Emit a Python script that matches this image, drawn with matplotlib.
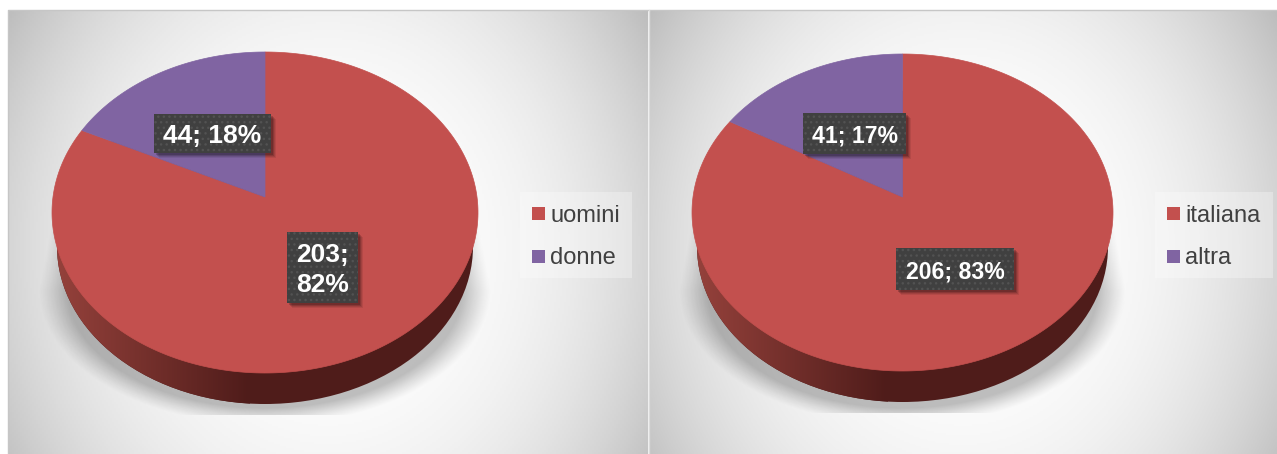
import numpy as np
import matplotlib
matplotlib.use('Agg')
import matplotlib.pyplot as plt
from matplotlib.patches import Ellipse, Polygon, Rectangle
from matplotlib.colors import LinearSegmentedColormap

plt.rcParams['font.family'] = ['Liberation Sans', 'DejaVu Sans']

# data
labels_left = ['uomini', 'donne']
values_left = [203, 44]
labels_right = ['italiana', 'altra']
values_right = [206, 41]

RED = '#c3504e'
PURPLE = '#8064a2'
COLORS = [RED, PURPLE]
W, H = 1277, 454

rim_cmap = LinearSegmentedColormap.from_list('rim', ['#96423c', '#4f1c1a'])
bg_cmap = LinearSegmentedColormap.from_list('bg', ['#ffffff', '#bdbdbd'])


def draw_background(ax, x0, x1, y0, y1):
    xx, yy = np.meshgrid(np.linspace(-1, 1, 320), np.linspace(-1, 0.85, 222))
    t = (0.7 * xx ** 2 + 0.3 * yy ** 2) ** 1.3
    ax.imshow(t, extent=(x0, x1, y1, y0), cmap=bg_cmap, vmin=0, vmax=1, aspect='auto', zorder=1)
    ax.plot([x0, x0, x1], [y1, y0, y0], color='#c6c6c6', lw=1, zorder=1.5)


def draw_shadow(ax, cx, rx, y_top, y_mid, y_cut):
    # soft shadow under the pie, flares out then is cut flat at the bottom
    xs = np.arange(cx - rx - 40, cx + rx + 40)
    ys = np.arange(y_top, y_cut)
    xx, yy = np.meshgrid(xs, ys)
    flare = rx + 14 * np.clip((yy - y_top) / (y_mid - y_top), 0, 1)
    d = np.sqrt(((xx - cx) / flare) ** 2 + (np.clip(yy - y_mid, 0, None) / 135) ** 2)
    a = np.clip((1 - d) / 0.13, 0, 1) ** 1.2 * 0.25
    rgba = np.zeros(a.shape + (4,))
    rgba[..., 3] = a
    ax.imshow(rgba, extent=(xs[0], xs[-1], y_cut, y_top), aspect='auto', zorder=2)


def draw_pie(ax, values, cx, apex_y, top_y, bot_y, rx, depth):
    cy = (top_y + bot_y) / 2
    ry = (bot_y - top_y) / 2

    # rim: darker ellipse below the top face, lit from the left
    grad = np.linspace(0, 1, 200)[None, :]
    rim = Ellipse((cx, cy + 34), 2 * (rx - 5), 2 * (ry + depth - 34), fc='none', ec='none', zorder=3)
    ax.add_patch(rim)
    im = ax.imshow(grad, extent=(cx - rx, cx - 15, bot_y + depth + 2, cy), cmap=rim_cmap,
                   aspect='auto', zorder=3)
    im.set_clip_path(rim)
    dark = Ellipse((cx, cy + 34), 2 * (rx - 5), 2 * (ry + depth - 34), fc='#4f1c1a', ec='none', zorder=2.9)
    ax.add_patch(dark)

    # top face, perspective puts the centre of the pie above the middle of the ellipse
    up = apex_y - top_y
    down = bot_y - apex_y
    k = (down - up) / (down + up)
    b = up * (1 + k)
    a = rx * np.sqrt(1 - k ** 2)

    total = sum(values)
    start = 0.0
    for value, color in zip(values, COLORS):
        stop = start + value / total * 2 * np.pi
        th = np.linspace(start, stop, 300)
        u, v = np.sin(th), np.cos(th)
        w = 1 + k * v
        px = cx + a * u / w
        py = apex_y - b * v / w
        pts = np.column_stack([np.r_[cx, px], np.r_[apex_y, py]])
        ax.add_patch(Polygon(pts, closed=True, fc=color, ec=color, lw=0.5, zorder=4))
        start = stop


def draw_label(ax, text, x0, x1, y0, y1, size):
    for off, alpha in [(5, 0.08), (4, 0.1), (3, 0.14), (2, 0.18)]:
        ax.add_patch(Rectangle((x0 + off, y0 + off), x1 - x0, y1 - y0, fc='black', ec='none',
                               alpha=alpha, zorder=5))
    ax.add_patch(Rectangle((x0, y0), x1 - x0, y1 - y0, fc='#404040', ec='#525252', lw=0,
                           hatch='...', zorder=6))
    ax.text((x0 + x1) / 2, (y0 + y1) / 2 + 2.5, text, color='white', fontsize=size, fontweight='bold',
            ha='center', va='center', linespacing=1.32, zorder=7)


def draw_legend(ax, labels, x0, x1):
    ax.add_patch(Rectangle((x0, 192), x1 - x0, 86, fc='white', ec='none', alpha=0.3, zorder=3))
    for label, color, y in zip(labels, COLORS, [213.5, 256.5]):
        ax.add_patch(Rectangle((x0 + 12, y - 6.5), 13, 13, fc=color, ec='none', zorder=4))
        ax.text(x0 + 30, y + 2, label, color='#404040', fontsize=17, ha='left', va='center', zorder=4)


def pct_label(values, i, sep='; '):
    return f'{values[i]}{sep}{round(values[i] / sum(values) * 100)}%'


fig = plt.figure(figsize=(W / 100, H / 100), dpi=100, facecolor='white')
ax = fig.add_axes([0, 0, 1, 1])

# left chart
draw_background(ax, 8, 648, 10, H)
draw_shadow(ax, 265, 213, 213, 290, 415)
draw_pie(ax, values_left, 265, 197, 52, 373, 213, 31)
draw_label(ax, pct_label(values_left, 1), 154, 271, 114, 153, 19)
draw_label(ax, pct_label(values_left, 0, ';\n'), 287, 358, 232, 303, 19)
draw_legend(ax, labels_left, 520, 632)

# right chart
draw_background(ax, 649, W, 10, H)
draw_shadow(ax, 902.5, 210.5, 213, 290, 413)
draw_pie(ax, values_right, 902.5, 197, 54, 371, 210.5, 31)
draw_label(ax, pct_label(values_right, 1), 803, 906, 113, 154, 16.6)
draw_label(ax, pct_label(values_right, 0), 896, 1014, 248, 290, 16.6)
draw_legend(ax, labels_right, 1155, 1273)

ax.plot([648.5, 648.5], [10, H], color='#dcdcdc', lw=1, zorder=3)
ax.set_xlim(0, W)
ax.set_ylim(H, 0)
ax.axis('off')
fig.savefig('out.png', dpi=100, facecolor='white')
